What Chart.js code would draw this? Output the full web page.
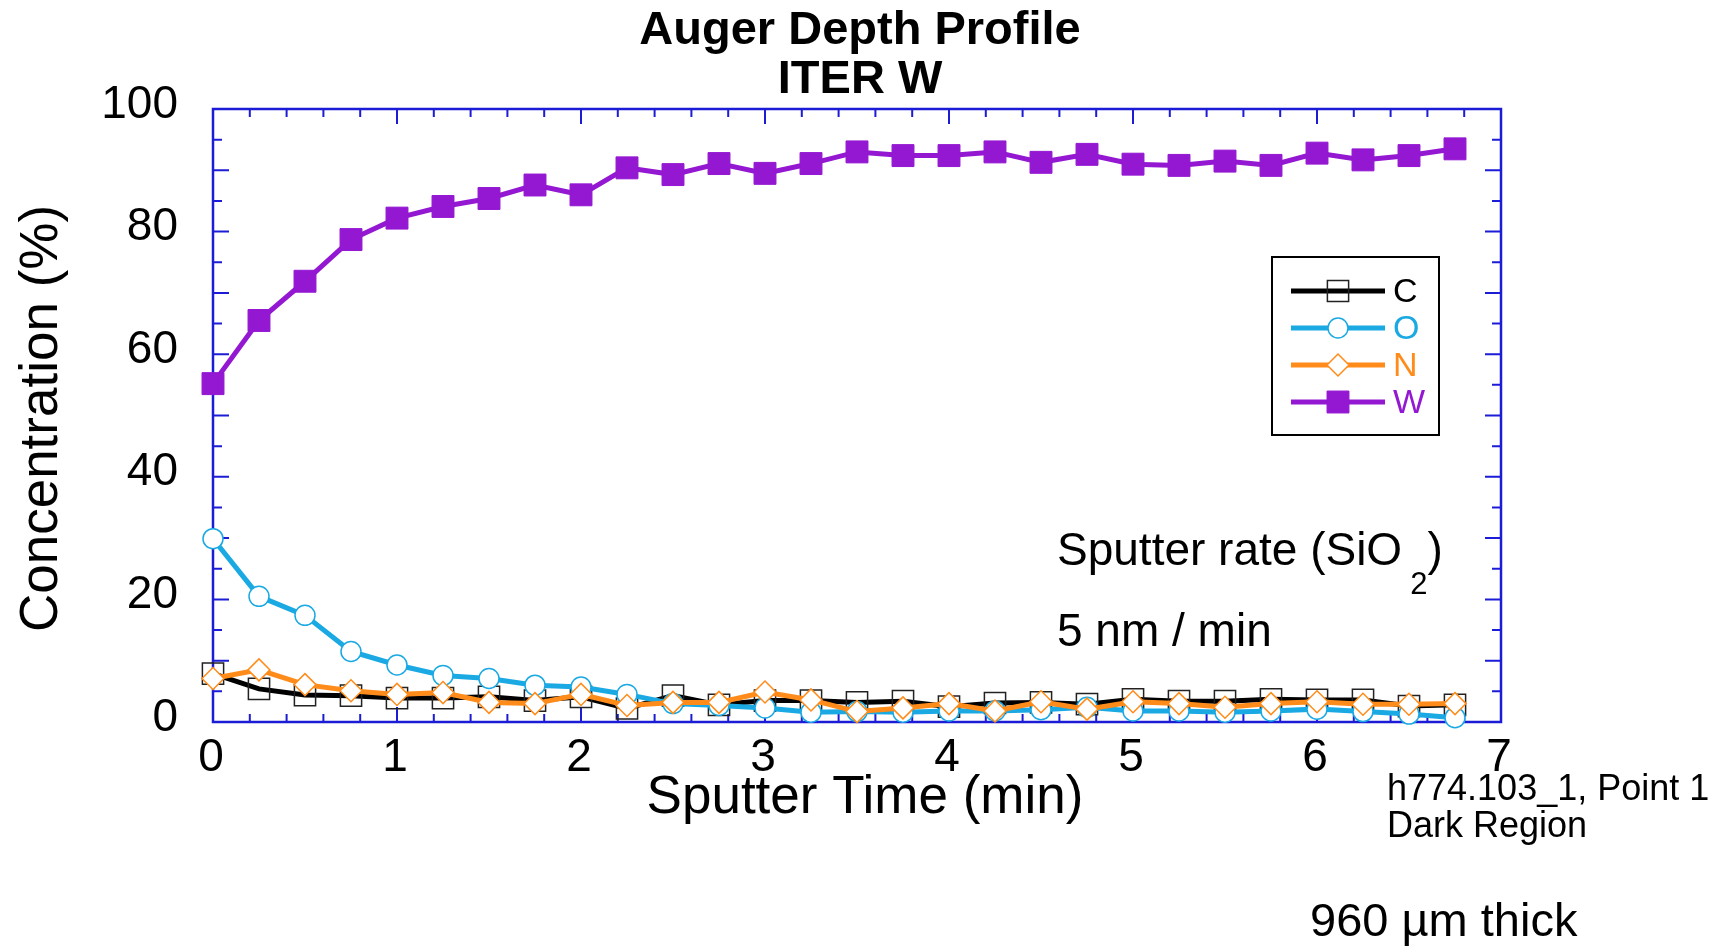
<!DOCTYPE html>
<html>
<head>
<meta charset="utf-8">
<title>Auger Depth Profile - ITER W</title>
<script src="https://cdn.jsdelivr.net/npm/chart.js@4.4.1/dist/chart.umd.min.js"></script>
<style>
  html, body { margin: 0; padding: 0; background: #fff; }
  #wrap { width: 1724px; height: 946px; }
</style>
</head>
<body>
<div id="wrap"><canvas id="chart" width="1724" height="946"></canvas></div>
<script>
// sputter time (min), one reading every 15 s
const times = [0, 0.25, 0.5, 0.75, 1, 1.25, 1.5, 1.75, 2, 2.25, 2.5, 2.75, 3, 3.25,
               3.5, 3.75, 4, 4.25, 4.5, 4.75, 5, 5.25, 5.5, 5.75, 6, 6.25, 6.5, 6.75];

// concentrations (%)
const carbon   = [7.9, 5.4, 4.4, 4.3, 3.9, 3.9, 4.1, 3.5, 4.1, 2.2, 4.3, 2.8, 3.5, 3.5,
                  3.2, 3.4, 2.5, 3.1, 3.2, 2.9, 3.7, 3.4, 3.4, 3.7, 3.6, 3.6, 2.6, 2.8];
const oxygen   = [29.9, 20.5, 17.4, 11.5, 9.3, 7.6, 7.1, 6.0, 5.7, 4.5, 3.0, 2.7, 2.3, 1.6,
                  1.7, 1.6, 1.8, 1.8, 2.0, 2.4, 1.8, 1.8, 1.6, 1.8, 2.1, 1.7, 1.3, 0.7];
const nitrogen = [7.1, 8.5, 6.1, 5.1, 4.5, 4.8, 3.2, 3.0, 4.5, 2.7, 3.2, 3.2, 4.9, 3.6,
                  1.7, 2.3, 3.0, 1.8, 3.3, 2.1, 3.3, 3.0, 2.4, 3.0, 3.3, 2.9, 2.9, 3.0];
const tungsten = [55.2, 65.5, 71.9, 78.7, 82.2, 84.1, 85.4, 87.6, 86.0, 90.4, 89.3, 91.1, 89.5, 91.1,
                  93.0, 92.4, 92.4, 93.0, 91.3, 92.6, 91.0, 90.8, 91.5, 90.8, 92.8, 91.7, 92.4, 93.5];

const seriesNames = ['C', 'O', 'N', 'W'];
const titleLines = ['Auger Depth Profile', 'ITER W'];
const xTitle = 'Sputter Time (min)';
const yTitle = 'Concentration (%)';
const noteLines = ['h774.103_1, Point 1', 'Dark Region'];
const thickness = '960 µm thick';

const AXIS_BLUE = '#1c1cd6';
const FONT = '"Liberation Sans", Arial, Helvetica, sans-serif';

const styles = [
  { color: '#000000', fill: 'rgba(0,0,0,0)', pointStyle: 'rect',    radius: 15,  border: 1.5 },
  { color: '#1aa9e3', fill: '#ffffff',       pointStyle: 'circle',  radius: 10,  border: 1.5 },
  { color: '#ff8c1a', fill: '#ffffff',       pointStyle: 'rectRot', radius: 11,  border: 1.5 },
  { color: '#9418d2', fill: '#9418d2',       pointStyle: 'rect',    radius: 15.5, border: 1 }
];

function toPoints(values) {
  return times.map((t, i) => ({ x: t, y: values[i] }));
}

const datasets = [carbon, oxygen, nitrogen, tungsten].map((vals, i) => ({
  label: seriesNames[i],
  data: toPoints(vals),
  borderColor: styles[i].color,
  borderWidth: 5,
  pointStyle: styles[i].pointStyle,
  pointRadius: styles[i].radius,
  pointHoverRadius: styles[i].radius,
  pointBackgroundColor: styles[i].fill,
  pointBorderColor: i === 0 ? '#222' : styles[i].color,
  pointBorderWidth: styles[i].border,
  tension: 0,
  clip: false,
  order: 4 - i   // C at the back, W in front
}));

// blue frame with inward ticks on all four sides
const framePlugin = {
  id: 'frame',
  beforeDatasetsDraw(chart) {
    const { ctx, chartArea: a, scales: { x, y } } = chart;
    ctx.save();
    ctx.strokeStyle = AXIS_BLUE;
    ctx.lineWidth = 2;
    ctx.beginPath();
    for (let i = 0; i <= 35; i++) {
      const px = x.getPixelForValue(i / 5);
      const len = i % 5 === 0 ? 15 : 8;
      ctx.moveTo(px, a.bottom); ctx.lineTo(px, a.bottom - len);
      ctx.moveTo(px, a.top); ctx.lineTo(px, a.top + len);
    }
    for (let i = 0; i <= 20; i++) {
      const py = y.getPixelForValue(i * 5);
      const len = i % 2 === 0 ? 16 : 9;
      ctx.moveTo(a.left, py); ctx.lineTo(a.left + len, py);
      ctx.moveTo(a.right, py); ctx.lineTo(a.right - len, py);
    }
    ctx.stroke();
    ctx.lineWidth = 2.5;
    ctx.strokeRect(a.left, a.top, a.right - a.left, a.bottom - a.top);
    ctx.restore();
  }
};

// titles, notes and the boxed legend
const textPlugin = {
  id: 'texts',
  afterDraw(chart) {
    const { ctx, chartArea: a } = chart;
    const cx = (a.left + a.right) / 2 + 3;
    ctx.save();
    ctx.fillStyle = '#000';
    ctx.textAlign = 'center';
    ctx.textBaseline = 'alphabetic';
    ctx.font = 'bold 47px ' + FONT;
    ctx.fillText(titleLines[0], cx, 44);
    ctx.fillText(titleLines[1], cx, 93);

    ctx.font = '53px ' + FONT;
    ctx.fillText(xTitle, cx + 5, 813);
    ctx.save();
    ctx.translate(57, (a.top + a.bottom) / 2 + 3);
    ctx.rotate(-Math.PI / 2);
    ctx.fillText(yTitle, 0, 0);
    ctx.restore();

    // sputter rate note
    ctx.textAlign = 'left';
    ctx.font = '46px ' + FONT;
    const part1 = 'Sputter rate (SiO';
    const w1 = ctx.measureText(part1).width;
    ctx.fillText(part1, 1057, 565);
    ctx.font = '31px ' + FONT;
    const w2 = ctx.measureText('2').width;
    ctx.fillText('2', 1057 + w1 + 8, 594);
    ctx.font = '46px ' + FONT;
    ctx.fillText(')', 1057 + w1 + w2 + 8, 565);
    ctx.fillText('5 nm / min', 1057, 646);

    ctx.font = '36px ' + FONT;
    ctx.fillText(noteLines[0], 1387, 800);
    ctx.fillText(noteLines[1], 1387, 837);
    ctx.font = '47px ' + FONT;
    ctx.fillText(thickness, 1310, 936);

    // legend
    ctx.strokeStyle = '#000';
    ctx.lineWidth = 2;
    ctx.strokeRect(1272, 257, 167, 178);
    ctx.font = '34px ' + FONT;
    ctx.textBaseline = 'middle';
    styles.forEach((s, i) => {
      const ly = 291 + 37 * i;
      ctx.strokeStyle = s.color;
      ctx.lineWidth = 5;
      ctx.beginPath();
      ctx.moveTo(1291, ly); ctx.lineTo(1385, ly);
      ctx.stroke();
      ctx.fillStyle = s.fill;
      ctx.strokeStyle = i === 0 ? '#222' : s.color;
      ctx.lineWidth = s.border;
      Chart.helpers.drawPoint(ctx, { pointStyle: s.pointStyle, radius: s.radius, borderWidth: s.border, rotation: 0 }, 1338, ly);
      ctx.fillStyle = s.color;
      ctx.fillText(seriesNames[i], 1393, ly + 2);
    });
    ctx.restore();
  }
};

new Chart(document.getElementById('chart'), {
  type: 'line',
  data: { datasets: datasets },
  options: {
    responsive: false,
    animation: false,
    devicePixelRatio: 1,
    layout: { padding: { left: 0, top: 109, right: 223, bottom: 0 } },
    plugins: {
      legend: { display: false },
      title: { display: false },
      tooltip: { enabled: false }
    },
    scales: {
      x: {
        type: 'linear',
        min: 0,
        max: 7,
        ticks: {
          stepSize: 1,
          color: '#000',
          padding: 9,
          maxRotation: 0,
          labelOffset: -2,
          font: { family: FONT, size: 46 }
        },
        grid: { display: false, drawTicks: false },
        border: { display: false },
        afterFit(scale) { scale.height = 224; }
      },
      y: {
        min: 0,
        max: 100,
        ticks: {
          stepSize: 20,
          color: '#000',
          padding: 35,
          labelOffset: -4,
          font: { family: FONT, size: 46 }
        },
        grid: { display: false, drawTicks: false },
        border: { display: false },
        afterFit(scale) { scale.width = 213; }
      }
    }
  },
  plugins: [framePlugin, textPlugin]
});
</script>
</body>
</html>
